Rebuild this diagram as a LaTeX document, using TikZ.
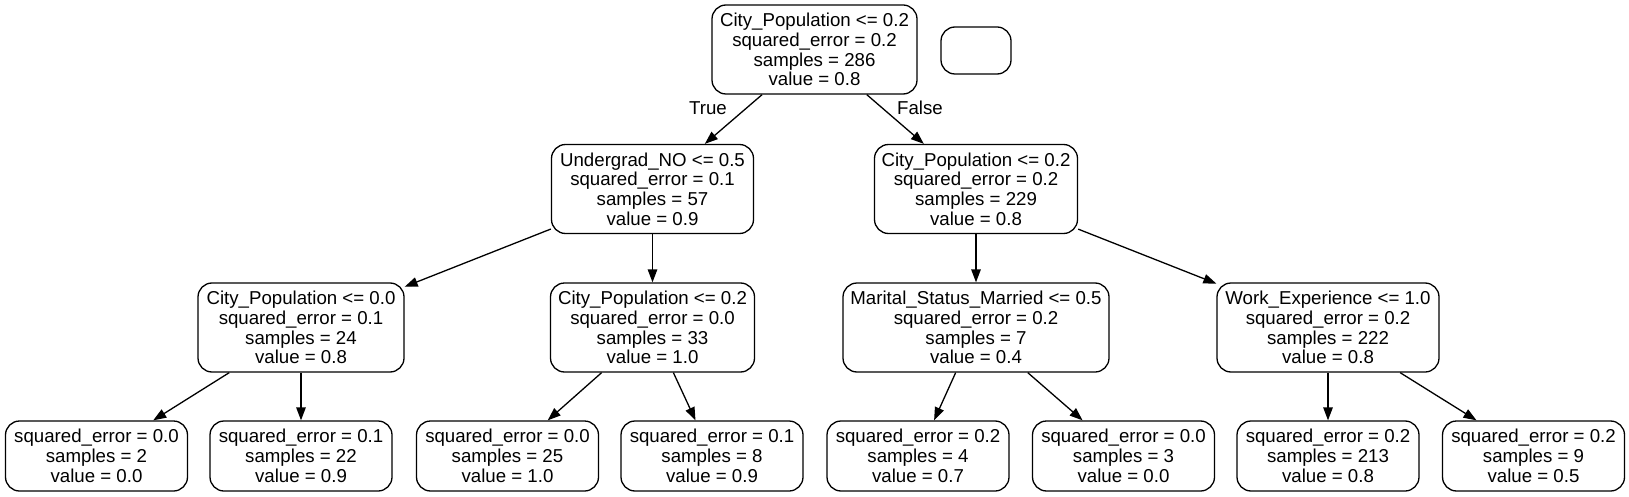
\documentclass[tikz,border=0pt]{standalone}
\usepackage{fontspec}
\setmainfont{Liberation Sans}
\usetikzlibrary{arrows.meta}

\begin{document}
\begin{tikzpicture}[x=1pt, y=-1pt, >={Triangle[length=13pt, width=9.5pt]},
		every node/.style={font=\fontsize{18.67}{19.7}\selectfont},
		split/.style={draw, rounded corners=14pt, line width=1.3pt, align=center, inner sep=0pt, minimum height=89pt},
		leaf/.style={split, minimum width=182pt, minimum height=70pt},
		branch/.style={->, line width=1.3pt}]
		\useasboundingbox (0, 0) rectangle (1629, 497);

		% root and the empty box beside it
		\node[split, minimum width=205pt] (root) at (814.5, 49.5) {City\_Population <= 0.2\\squared\_error = 0.2\\samples = 286\\value = 0.8};
		\node[split, minimum width=70pt, minimum height=47pt] (legend) at (976, 50.5) {};

		% first split
		\node[split, minimum width=202pt] (ugrad) at (652.5, 189) {Undergrad\_NO <= 0.5\\squared\_error = 0.1\\samples = 57\\value = 0.9};
		\node[split, minimum width=203pt] (cityR) at (976, 189) {City\_Population <= 0.2\\squared\_error = 0.2\\samples = 229\\value = 0.8};

		% second split
		\node[split, minimum width=206pt] (cityL) at (301, 327.5) {City\_Population <= 0.0\\squared\_error = 0.1\\samples = 24\\value = 0.8};
		\node[split, minimum width=204pt] (cityM) at (652.5, 327.5) {City\_Population <= 0.2\\squared\_error = 0.0\\samples = 33\\value = 1.0};
		\node[split, minimum width=266pt] (marital) at (976, 327.5) {Marital\_Status\_Married <= 0.5\\squared\_error = 0.2\\samples = 7\\value = 0.4};
		\node[split, minimum width=222pt] (workexp) at (1328, 327.5) {Work\_Experience <= 1.0\\squared\_error = 0.2\\samples = 222\\value = 0.8};

		% leaves
		\node[leaf] (leaf1) at (96.5, 456) {squared\_error = 0.0\\samples = 2\\value = 0.0};
		\node[leaf] (leaf2) at (301, 456) {squared\_error = 0.1\\samples = 22\\value = 0.9};
		\node[leaf] (leaf3) at (507.5, 456) {squared\_error = 0.0\\samples = 25\\value = 1.0};
		\node[leaf] (leaf4) at (712, 456) {squared\_error = 0.1\\samples = 8\\value = 0.9};
		\node[leaf] (leaf5) at (918, 456) {squared\_error = 0.2\\samples = 4\\value = 0.7};
		\node[leaf] (leaf6) at (1123.5, 456) {squared\_error = 0.0\\samples = 3\\value = 0.0};
		\node[leaf] (leaf7) at (1328, 456) {squared\_error = 0.2\\samples = 213\\value = 0.8};
		\node[leaf] (leaf8) at (1533.5, 456) {squared\_error = 0.2\\samples = 9\\value = 0.5};

		\node (tlab) at (708, 108) {True};
		\node (flab) at (920, 108) {False};

		\draw[branch] (root) to (ugrad);
		\draw[branch] (root) to (cityR);
		\draw[branch] (ugrad) to (cityL);
		\draw[branch] (ugrad) to (cityM);
		\draw[branch] (cityR) to (marital);
		\draw[branch] (cityR) to (workexp);
		\draw[branch] (cityL) to (leaf1);
		\draw[branch] (cityL) to (leaf2);
		\draw[branch] (cityM) to (leaf3);
		\draw[branch] (cityM) to (leaf4);
		\draw[branch] (marital) to (leaf5);
		\draw[branch] (marital) to (leaf6);
		\draw[branch] (workexp) to (leaf7);
		\draw[branch] (workexp) to (leaf8);
	\end{tikzpicture}
\end{document}
